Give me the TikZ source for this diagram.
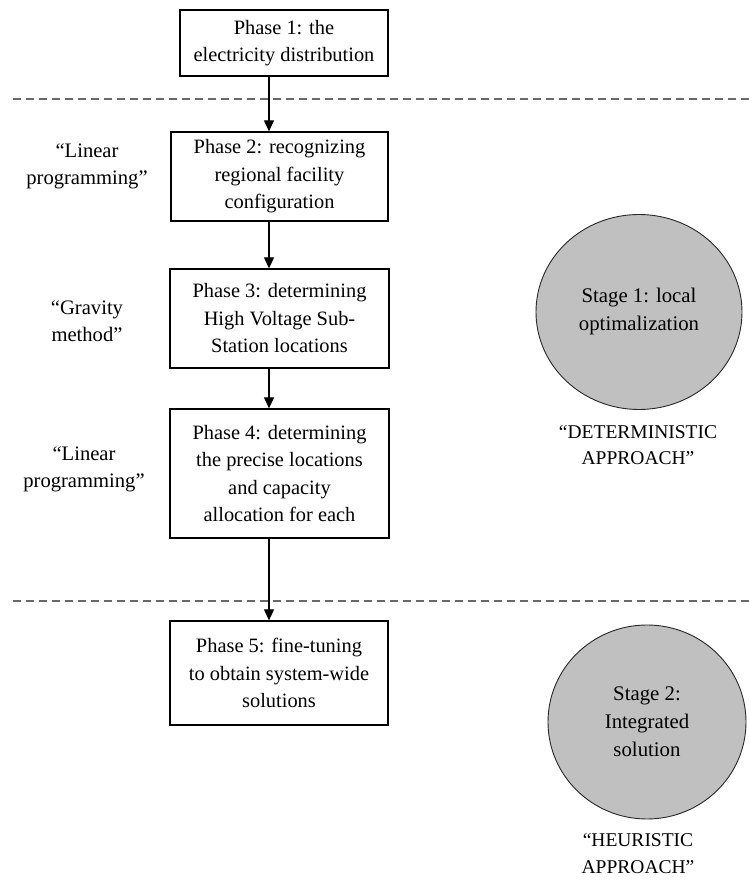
\documentclass[tikz,border=0pt]{standalone}
\usepackage{fontspec}
\setmainfont{Liberation Serif}
\usetikzlibrary{arrows.meta,shapes.geometric}

\tikzset{
  phasebox/.style={draw=black,line width=1.3pt,align=center,inner sep=0pt,
    font=\fontsize{20.4}{27.5}\selectfont},
  stagedisc/.style={ellipse,draw=drawColor,line width=0.9pt,fill=fillColor,
    align=center,inner sep=0pt,font=\fontsize{20.8}{28}\selectfont},
  sidelabel/.style={align=center,inner sep=0pt,font=\fontsize{20.6}{27}\selectfont},
  approachlabel/.style={align=center,inner sep=0pt,font=\fontsize{19.5}{26.5}\selectfont},
  flow/.style={line width=1.2pt,-{Triangle[length=11pt,width=10pt]}},
  divider/.style={draw=dashColor,line width=1.6pt,dash pattern=on 8pt off 5pt}
}

\begin{document}
\begin{tikzpicture}[x=1pt,y=1pt]
\definecolor{fillColor}{RGB}{192,192,192}
\definecolor{drawColor}{RGB}{40,40,40}
\definecolor{dashColor}{RGB}{105,105,105}
\path[use as bounding box,fill=white] (0,0) rectangle (749,881);

% phases
\node[phasebox,minimum width=208,minimum height=66] (p1) at (284,838) {Phase 1: the\\electricity distribution};
\node[phasebox,minimum width=217,minimum height=89] (p2) at (279.5,704.5) {Phase 2: recognizing\\regional facility\\configuration};
\node[phasebox,minimum width=219,minimum height=99] (p3) at (279.5,562.5) {Phase 3: determining\\High Voltage Sub-\\Station locations};
\node[phasebox,minimum width=219,minimum height=129] (p4) at (279.5,407.5) {Phase 4: determining\\the precise locations\\and capacity\\allocation for each};
\node[phasebox,minimum width=218,minimum height=104] (p5) at (279,208) {Phase 5: fine-tuning\\to obtain system-wide\\solutions};

% dividers
\coordinate (divA) at (13,782);
\coordinate (divB) at (13,280);
\draw[divider] (divA) -- ++(736,0);
\draw[divider] (divB) -- ++(736,0);

% arrows
\coordinate (spine) at (269,0);
\draw[flow] (p1.south -| spine) -- (p2.north -| spine);
\draw[flow] (p2.south -| spine) -- (p3.north -| spine);
\draw[flow] (p3.south -| spine) -- (p4.north -| spine);
\draw[flow] (p4.south -| spine) -- (p5.north -| spine);

% methods
\node[sidelabel] (m2) at (87,714.5) {“Linear\\programming”};
\node[sidelabel] (m3) at (87,560) {“Gravity\\method”};
\node[sidelabel] (m4) at (84,412) {“Linear\\programming”};

% stages
\node[stagedisc,minimum width=206,minimum height=195] (s1) at (639,569) {Stage 1: local\\optimalization};
\node[approachlabel] (a1) at (638,436) {“DETERMINISTIC\\APPROACH”};
\node[stagedisc,minimum width=198,minimum height=194] (s2) at (647,159) {Stage 2:\\Integrated\\solution};
\node[approachlabel] (a2) at (638,27.5) {“HEURISTIC\\APPROACH”};
\end{tikzpicture}
\end{document}
